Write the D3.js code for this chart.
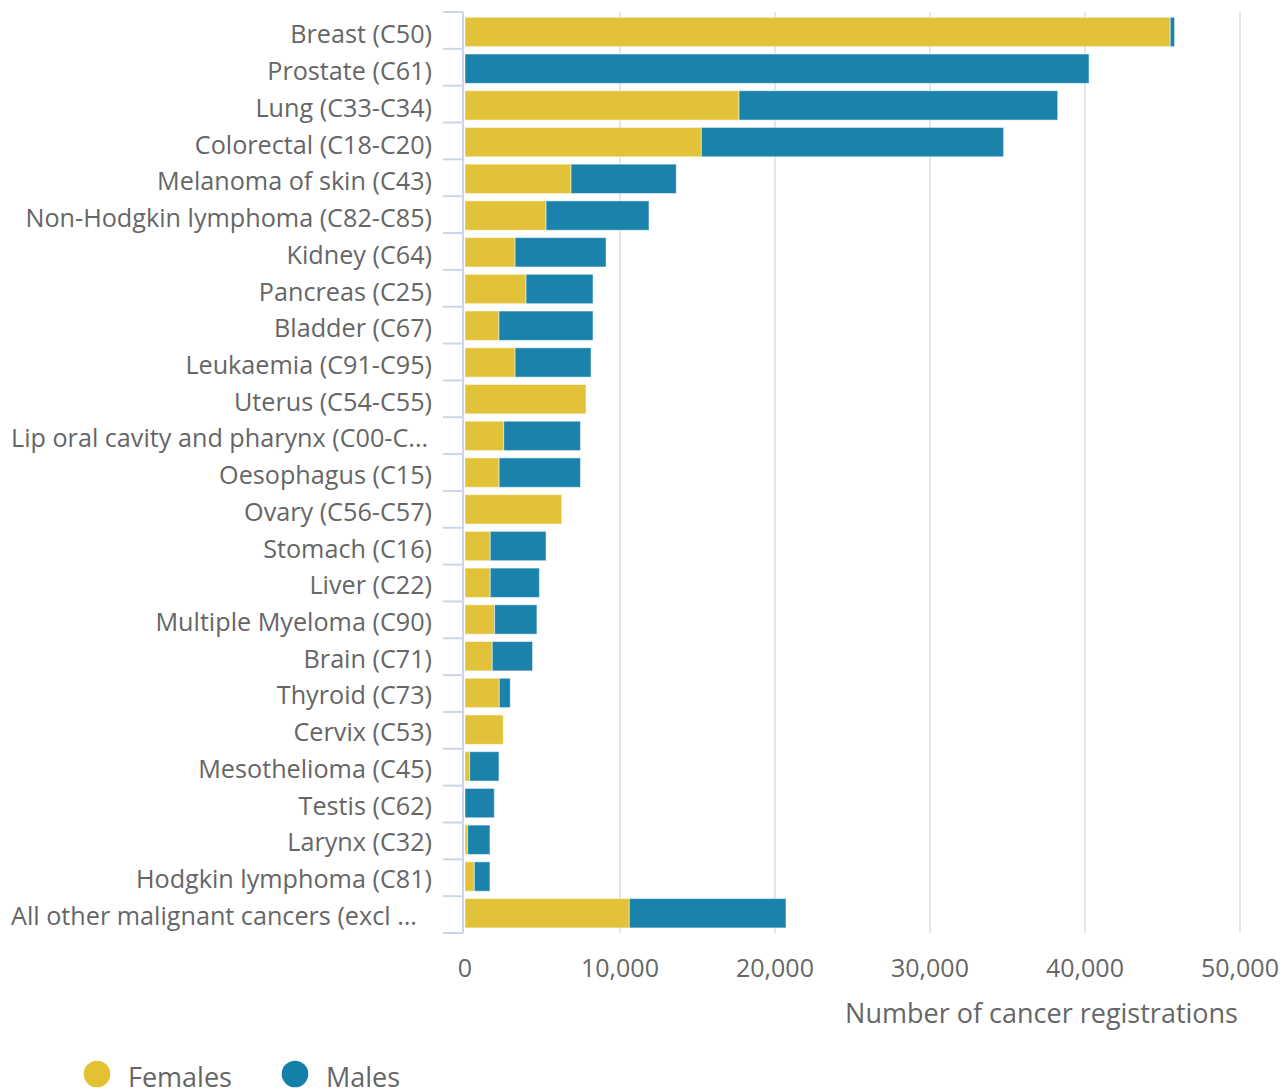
<!DOCTYPE html>
<html>
<head>
<meta charset="utf-8">
<script src="https://cdn.jsdelivr.net/npm/d3@7"></script>
<style>
  body { margin: 0; background: #fff; }
  svg { font-family: "Open Sans", sans-serif; }
</style>
</head>
<body>
<script>
const categories = [
  "Breast (C50)", "Prostate (C61)", "Lung (C33-C34)", "Colorectal (C18-C20)",
  "Melanoma of skin (C43)", "Non-Hodgkin lymphoma (C82-C85)", "Kidney (C64)",
  "Pancreas (C25)", "Bladder (C67)", "Leukaemia (C91-C95)", "Uterus (C54-C55)",
  "Lip oral cavity and pharynx (C00-C...", "Oesophagus (C15)", "Ovary (C56-C57)",
  "Stomach (C16)", "Liver (C22)", "Multiple Myeloma (C90)", "Brain (C71)",
  "Thyroid (C73)", "Cervix (C53)", "Mesothelioma (C45)", "Testis (C62)",
  "Larynx (C32)", "Hodgkin lymphoma (C81)", "All other malignant cancers (excl ..."
];
const females = [45500, 0, 17680, 15250, 6840, 5230, 3230, 3940, 2190, 3230, 7810,
  2500, 2200, 6240, 1630, 1630, 1910, 1760, 2210, 2470, 300, 0, 170, 600, 10600];
const males = [280, 40260, 20560, 19500, 6790, 6640, 5870, 4320, 6070, 4900, 0,
  4950, 5250, 0, 3600, 3170, 2730, 2600, 710, 0, 1890, 1890, 1440, 1010, 10110];
const seriesNames = ["Females", "Males"];
const colors = ["#e2c132", "#1480a9"];
const xTicks = [0, 10000, 20000, 30000, 40000, 50000];

const W = 1288, H = 1090;
const plotLeft = 465, plotRight = 1240, plotTop = 12, plotBottom = 933;

const svg = d3.select("body").append("svg").attr("width", W).attr("height", H);

const x = d3.scaleLinear().domain([0, 50000]).range([plotLeft, plotRight]);
const y = d3.scaleBand().domain(categories).range([13.6, 931.6]).paddingInner(0.2).paddingOuter(0.1);

// grid
svg.append("g").selectAll("line").data(xTicks.slice(1)).join("line")
  .attr("x1", d => x(d)).attr("x2", d => x(d))
  .attr("y1", plotTop).attr("y2", plotBottom)
  .attr("stroke", "#e6e6e6").attr("stroke-width", 2);

// stacked bars
const rows = categories.map((c, i) => ({ cat: c, f: females[i], m: males[i] }));
const stack = d3.stack().keys(["f", "m"])(rows);
svg.append("g").selectAll("g").data(stack).join("g")
  .attr("fill", (d, i) => colors[i])
  .selectAll("rect").data(d => d.filter(s => s[1] > s[0])).join("rect")
  .attr("x", d => x(d[0])).attr("width", d => x(d[1]) - x(d[0]))
  .attr("y", d => y(d.data.cat)).attr("height", y.bandwidth())
  .attr("stroke", "#fff").attr("stroke-opacity", 0.5).attr("stroke-width", 1)
  .attr("opacity", 0.97);

// y axis
const step = (plotBottom - plotTop) / categories.length;
const yAxis = svg.append("g");
yAxis.append("line").attr("x1", 463).attr("x2", 463).attr("y1", plotTop).attr("y2", plotBottom)
  .attr("stroke", "#ccd6eb").attr("stroke-width", 2);
yAxis.selectAll("line.tick").data(d3.range(categories.length + 1)).join("line")
  .attr("class", "tick")
  .attr("x1", 443).attr("x2", 463)
  .attr("y1", i => plotTop + i * step).attr("y2", i => plotTop + i * step)
  .attr("stroke", "#ccd6eb").attr("stroke-width", 2);
// truncated labels sit at the left edge of the label area, the rest are right aligned
const truncated = d => d.endsWith("...");
yAxis.selectAll("text").data(categories).join("text")
  .attr("x", d => truncated(d) ? 11 : 432)
  .attr("y", d => y(d) + y.bandwidth() / 2 + 11.5)
  .attr("text-anchor", d => truncated(d) ? "start" : "end")
  .attr("fill", "#666").attr("font-size", 25.2).text(d => d);

// x axis labels
svg.append("g").selectAll("text").data(xTicks).join("text")
  .attr("x", d => x(d)).attr("y", 977).attr("text-anchor", "middle")
  .attr("fill", "#666").attr("font-size", 25)
  .text(d => d3.format(",")(d));

svg.append("text").attr("x", 1238).attr("y", 1023).attr("text-anchor", "end")
  .attr("fill", "#666").attr("font-size", 27)
  .text("Number of cancer registrations");

// legend
const lg = svg.append("g");
const lx = [97, 295];
seriesNames.forEach((n, i) => {
  lg.append("circle").attr("cx", lx[i]).attr("cy", 1074).attr("r", 13.3).attr("fill", colors[i]);
  lg.append("text").attr("x", lx[i] + 31).attr("y", 1087).attr("fill", "#666")
    .attr("font-size", 27).text(n);
});
</script>
</body>
</html>
